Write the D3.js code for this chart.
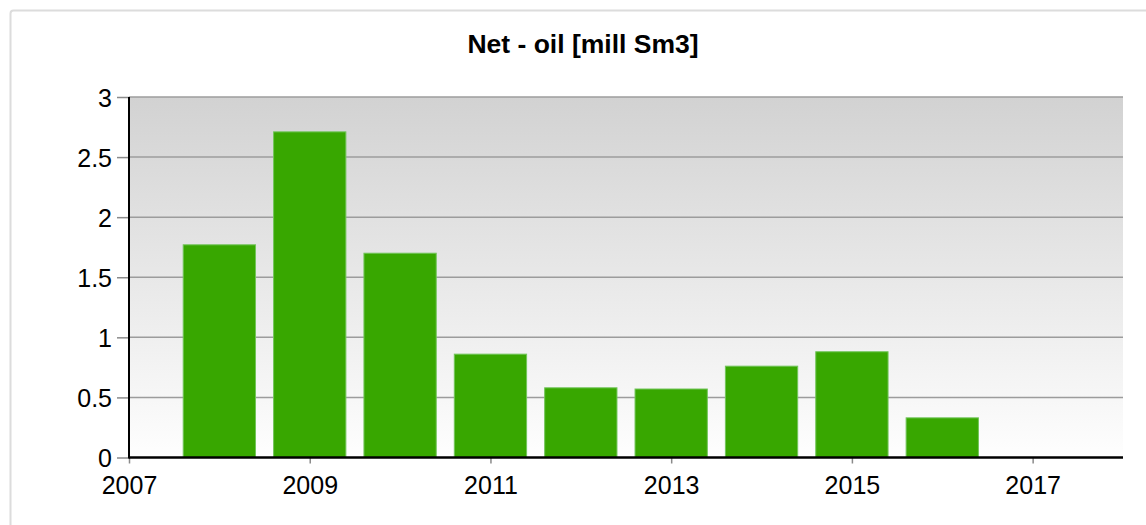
<!DOCTYPE html>
<html>
<head>
<meta charset="utf-8">
<script src="https://cdnjs.cloudflare.com/ajax/libs/d3/7.8.5/d3.min.js"></script>
<style>
  body { margin: 0; background: #fff; }
  svg { display: block; font-family: Arial, "Liberation Sans", sans-serif; }
</style>
</head>
<body>
<div id="chart"></div>
<script>
// chart data
const years = [2008, 2009, 2010, 2011, 2012, 2013, 2014, 2015, 2016, 2017];
const netOil = [1.77, 2.71, 1.70, 0.86, 0.58, 0.57, 0.76, 0.88, 0.33, 0];
const xTicks = [2007, 2009, 2011, 2013, 2015, 2017];
const yTicks = [0, 0.5, 1, 1.5, 2, 2.5, 3];
const title = 'Net - oil [mill Sm3]';

const w = 1146, h = 525;
const plotL = 129, plotR = 1123, plotT = 97, plotB = 457.5;

const svg = d3.select('#chart')
  .append('svg')
  .attr('width', w)
  .attr('height', h);

// outer frame
svg.append('rect')
  .attr('x', 10.5).attr('y', 10.5)
  .attr('width', 1160).attr('height', 600)
  .attr('rx', 3)
  .attr('fill', 'none')
  .attr('stroke', '#dcdcdc')
  .attr('stroke-width', 2);

const grad = svg.append('defs').append('linearGradient')
  .attr('id', 'bg')
  .attr('x1', 0).attr('y1', 0).attr('x2', 0).attr('y2', 1);
grad.append('stop').attr('offset', '0%').attr('stop-color', '#d2d2d2');
grad.append('stop').attr('offset', '100%').attr('stop-color', '#fefefe');

const x = d3.scaleLinear().domain([2007, 2018]).range([plotL, plotR]);
const y = d3.scaleLinear().domain([0, 3]).range([plotB, plotT]);

svg.append('rect')
  .attr('x', plotL).attr('y', plotT)
  .attr('width', plotR - plotL).attr('height', plotB - plotT)
  .attr('fill', 'url(#bg)');

// gridlines
svg.append('g')
  .selectAll('line')
  .data(yTicks.filter(d => d > 0))
  .enter()
  .append('line')
  .attr('x1', plotL).attr('x2', plotR)
  .attr('y1', d => y(d)).attr('y2', d => y(d))
  .attr('stroke', '#9c9c9c')
  .attr('stroke-width', 1.5);

// bars
const barW = x(2007.8) - x(2007);
svg.append('g')
  .selectAll('rect')
  .data(netOil)
  .enter()
  .append('rect')
  .attr('x', (d, i) => x(years[i]) - barW / 2)
  .attr('y', d => y(d))
  .attr('width', barW)
  .attr('height', d => plotB - y(d))
  .attr('fill', '#38a700')
  .attr('stroke', d => d > 0 ? '#72c55a' : 'none')
  .attr('stroke-width', 1);

// axes
const yAxis = d3.axisLeft(y)
  .tickValues(yTicks)
  .tickSize(12)
  .tickPadding(5)
  .tickFormat(d3.format('~g'));
const gy = svg.append('g')
  .attr('transform', `translate(${plotL},0)`)
  .call(yAxis);
gy.select('.domain').remove();
gy.selectAll('.tick line').attr('stroke', '#8a8a8a').attr('stroke-width', 1.5);
gy.selectAll('.tick text')
  .attr('font-size', 25)
  .attr('fill', '#000')
  .attr('dy', '0.36em');

const xAxis = d3.axisBottom(x)
  .tickValues(xTicks)
  .tickSize(6)
  .tickPadding(13)
  .tickFormat(d3.format('d'));
const gx = svg.append('g')
  .attr('transform', `translate(0,${plotB})`)
  .call(xAxis);
gx.select('.domain').remove();
gx.selectAll('.tick line').attr('stroke', '#8a8a8a').attr('stroke-width', 1.5);
gx.selectAll('.tick text')
  .attr('font-size', 25)
  .attr('fill', '#000');

svg.append('line')
  .attr('x1', plotL).attr('x2', plotR)
  .attr('y1', plotB).attr('y2', plotB)
  .attr('stroke', '#000').attr('stroke-width', 2.5);
svg.append('line')
  .attr('x1', plotL).attr('x2', plotL)
  .attr('y1', plotT).attr('y2', plotB + 1)
  .attr('stroke', '#000').attr('stroke-width', 2);

svg.append('text')
  .attr('x', 583).attr('y', 53)
  .attr('text-anchor', 'middle')
  .attr('font-size', 26.5)
  .attr('font-weight', 'bold')
  .text(title);
</script>
</body>
</html>
